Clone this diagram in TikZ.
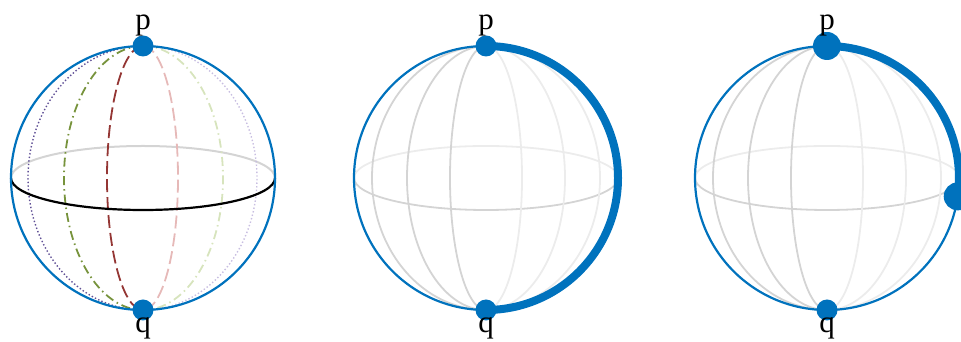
\documentclass[tikz,border=0pt]{standalone}
\usepackage{fontspec}
\setmainfont{Liberation Serif}
\usepackage{xcolor}
\usepackage{tikz}
\usetikzlibrary{positioning}

\definecolor{sphblue}{RGB}{0,114,189}
\definecolor{gridfront}{RGB}{212,212,212}
\definecolor{gridback}{RGB}{236,236,236}
\definecolor{darkpurple}{RGB}{96,80,150}
\definecolor{lightpurple}{RGB}{200,190,225}
\definecolor{olive}{RGB}{119,147,60}
\definecolor{lightolive}{RGB}{215,228,189}
\definecolor{darkred}{RGB}{148,54,52}
\definecolor{lightred}{RGB}{230,185,184}

\begin{document}
\begin{tikzpicture}[
    x=1pt, y=1pt,
    outline/.style={draw=sphblue, line width=2.2pt},
    pathline/.style={draw=sphblue, line width=8pt},
    gridfr/.style={draw=gridfront, line width=1.8pt},
    gridbk/.style={draw=gridback, line width=1.8pt},
    dotted line/.style={line width=1.4pt, dash pattern=on 1.4pt off 2.2pt},
    dashdot line/.style={line width=1.8pt, dash pattern=on 9pt off 4pt on 1.5pt off 4pt},
    dashed line/.style={line width=1.8pt, dash pattern=on 13pt off 5pt},
    ptdot/.style={circle, fill=sphblue, inner sep=0pt, minimum size=21pt},
    bigdot/.style={circle, fill=sphblue, inner sep=0pt, minimum size=28pt},
    ptlabel/.style={anchor=base, inner sep=0pt, font=\fontsize{31}{37}\selectfont}
]
\useasboundingbox (0,0) rectangle (961,342);

\coordinate (c1) at (143,164);
\coordinate (c2) at (486,164);
\coordinate (c3) at (827,164);

% first sphere: meridians through p and q
\draw[gridfront, line width=2pt] ([xshift=132]c1) arc[start angle=0, end angle=180, x radius=132, y radius=32];
\draw[darkpurple, dotted line] ([yshift=132]c1) arc[start angle=90, end angle=270, x radius=115, y radius=132];
\draw[olive, dashdot line] ([yshift=132]c1) arc[start angle=90, end angle=270, x radius=79, y radius=132];
\draw[darkred, dashed line] ([yshift=132]c1) arc[start angle=90, end angle=270, x radius=36, y radius=132];
\draw[lightred, dashed line] ([yshift=132]c1) arc[start angle=90, end angle=-90, x radius=35, y radius=132];
\draw[lightolive, dashdot line] ([yshift=132]c1) arc[start angle=90, end angle=-90, x radius=80, y radius=132];
\draw[lightpurple, dotted line] ([yshift=132]c1) arc[start angle=90, end angle=-90, x radius=114, y radius=132];
\draw[black, line width=2.2pt] ([xshift=-132]c1) arc[start angle=180, end angle=360, x radius=132, y radius=32];
\draw[outline] (c1) circle[radius=132];

% second and third sphere: gray grid
\foreach \c in {c2,c3} {
  \draw[gridbk] ([xshift=132]\c) arc[start angle=0, end angle=180, x radius=132, y radius=32];
  \draw[gridfr] ([xshift=-132]\c) arc[start angle=180, end angle=360, x radius=132, y radius=32];
  \foreach \a in {36,79,114} {
    \draw[gridfr] ([yshift=132]\c) arc[start angle=90, end angle=270, x radius=\a, y radius=132];
    \draw[gridbk] ([yshift=132]\c) arc[start angle=90, end angle=-90, x radius=\a, y radius=132];
  }
  \draw[outline] (\c) circle[radius=132];
}

% geodesic pieces
\draw[pathline] ([yshift=132]c2) arc[start angle=90, end angle=-90, radius=132];
\draw[pathline] ([yshift=132]c3) arc[start angle=90, end angle=-8, radius=132];

% points
\node[ptdot] (p1) at ([yshift=132]c1) {};
\node[ptdot] (q1) at ([yshift=-132]c1) {};
\node[ptdot] (p2) at ([yshift=132]c2) {};
\node[ptdot] (q2) at ([yshift=-132]c2) {};
\node[bigdot] (p3) at ([yshift=132]c3) {};
\node[ptdot] (q3) at ([yshift=-132]c3) {};
\node[bigdot] (r3) at ([shift={(-8:132)}]c3) {};

% labels
\node[ptlabel] (lp1) at (143,312) {p};
\node[ptlabel] (lq1) at (143,9) {q};
\node[ptlabel] (lp2) at (486,312) {p};
\node[ptlabel] (lq2) at (486,9) {q};
\node[ptlabel] (lp3) at (827,312) {p};
\node[ptlabel] (lq3) at (827,9) {q};
\end{tikzpicture}
\end{document}
